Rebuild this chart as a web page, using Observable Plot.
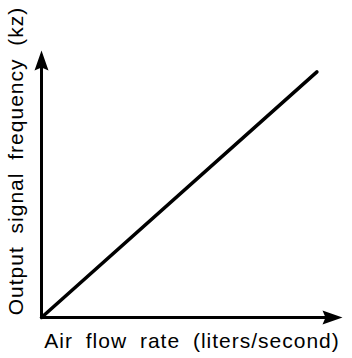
<!DOCTYPE html>
<html>
<head>
<meta charset="utf-8">
<script src="https://cdn.jsdelivr.net/npm/d3@7"></script>
<script src="https://cdn.jsdelivr.net/npm/@observablehq/plot@0.6"></script>
<style>
  html, body { margin: 0; padding: 0; background: #fff; }
  svg text { letter-spacing: 1px; word-spacing: 6px; }
</style>
</head>
<body>
<div id="chart"></div>
<script>
// Data (arbitrary units, axes without ticks)
const flowRate = [0, 91.5];
const frequency = [0, 92];
const axisEnd = 100;
const xLabel = "Air flow rate (liters/second)";
const yLabel = "Output signal frequency (kz)";

const lineData = flowRate.map((x, i) => ({x, y: frequency[i]}));

// filled arrowhead pointing up, tip at origin
const arrowHead = {
  draw(context) {
    context.moveTo(0, 0);
    context.lineTo(7, 20);
    context.lineTo(0, 17);
    context.lineTo(-7, 20);
    context.closePath();
  }
};

const chart = Plot.plot({
  width: 352,
  height: 358,
  marginLeft: 41,
  marginRight: 10,
  marginTop: 50,
  marginBottom: 41,
  x: {domain: [0, axisEnd], axis: null},
  y: {domain: [0, axisEnd], axis: null},
  style: {fontFamily: "Liberation Sans, Arial, sans-serif", background: "#fff"},
  marks: [
    Plot.ruleY([0], {x1: 0, x2: axisEnd - 3, stroke: "#000", strokeWidth: 3}),
    Plot.ruleX([0], {y1: 0, y2: axisEnd - 3, stroke: "#000", strokeWidth: 3}),
    Plot.dot([{x: 0, y: axisEnd}], {x: "x", y: "y", symbol: arrowHead, fill: "#000", stroke: "none", rotate: 0}),
    Plot.dot([{x: axisEnd, y: 0}], {x: "x", y: "y", symbol: arrowHead, fill: "#000", stroke: "none", rotate: 90}),
    Plot.line(lineData, {x: "x", y: "y", stroke: "#000", strokeWidth: 3.5}),
    Plot.text([xLabel], {frameAnchor: "bottom", dy: 24, text: d => d, fontSize: 21, fill: "#000", lineAnchor: "middle", textAnchor: "middle"}),
    Plot.text([yLabel], {frameAnchor: "left", dx: -25, dy: -23, rotate: -90, text: d => d, fontSize: 21, fill: "#000", lineAnchor: "middle", textAnchor: "middle"})
  ]
});
document.getElementById("chart").appendChild(chart);
</script>
</body>
</html>
